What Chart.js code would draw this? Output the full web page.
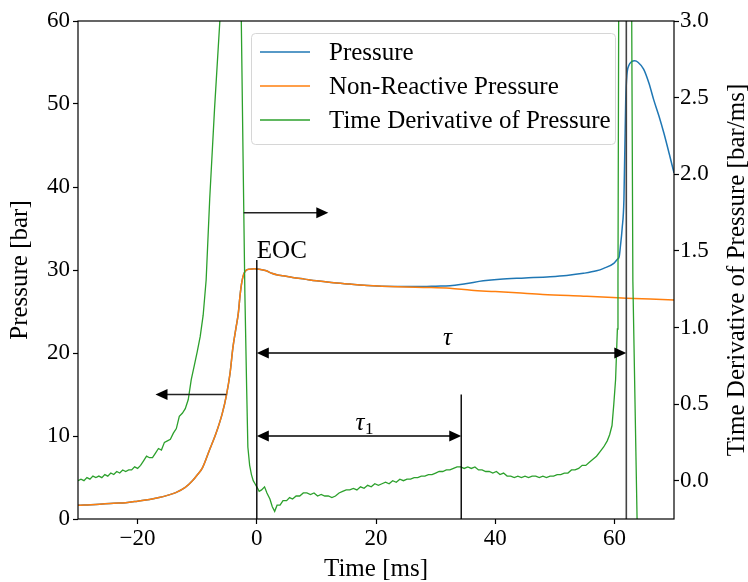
<!DOCTYPE html>
<html>
<head>
<meta charset="utf-8">
<script src="https://cdn.jsdelivr.net/npm/chart.js@4/dist/chart.umd.min.js"></script>
<style>
  body { margin: 0; background: #fff; }
</style>
</head>
<body>
<canvas id="myChart" width="748" height="582"></canvas>
<script>
// pressure (blue) [ms] / [bar]
const timeP = [-30, -27, -24, -22, -20, -18, -16.4, -15, -13.6, -12, -10.8, -10, -9.1, -8, -6.9, -5.8, -5.1, -4.5, -4, -3.5, -3.1, -2.8, -2.5, -2.2, -1.8, -1.2, -0.4, 0.4, 1.6, 2.5, 3.5, 4.4, 6, 8, 10, 12.5, 15.6, 18, 21, 25, 28, 30, 32.4, 35, 38, 40.8, 45, 49.2, 52, 54.8, 57, 58.2, 59.9, 60.5, 60.8, 61, 61.3, 61.6, 61.9, 62.1, 62.4, 62.9, 63.4, 64, 64.9, 65.8, 66.6, 67.5, 68.3, 69.2, 70];
const pressure = [1.65, 1.75, 1.9, 1.97, 2.15, 2.35, 2.58, 2.85, 3.18, 3.8, 4.6, 5.3, 6.2, 8.2, 10.2, 12.7, 14.9, 17.5, 20.7, 23.0, 24.8, 27.0, 28.6, 29.5, 29.95, 30.1, 30.15, 30.1, 29.9, 29.6, 29.4, 29.3, 29.1, 28.9, 28.7, 28.5, 28.3, 28.15, 28.05, 28.0, 28.0, 28.05, 28.1, 28.35, 28.7, 28.9, 29.05, 29.2, 29.35, 29.6, 29.9, 30.2, 30.8, 31.3, 31.6, 32.8, 35.0, 38.5, 50.5, 53.5, 54.6, 55.1, 55.2, 55.0, 54.2, 52.5, 50.5, 48.5, 46.5, 44.0, 41.7];

// non-reactive pressure (orange)
const timeNR = [-30, -27, -24, -22, -20, -18, -16.4, -15, -13.6, -12, -10.8, -10, -9.1, -8, -6.9, -5.8, -5.1, -4.5, -4, -3.5, -3.1, -2.8, -2.5, -2.2, -1.8, -1.2, -0.4, 0.4, 1.6, 2.5, 3.5, 4.4, 6, 8, 10, 12.5, 15.6, 18, 21, 25, 28, 32.4, 36, 40, 43.6, 48, 54.8, 58, 62, 66, 70];
const nonReactive = [1.65, 1.75, 1.9, 1.97, 2.15, 2.35, 2.58, 2.85, 3.18, 3.8, 4.6, 5.3, 6.2, 8.2, 10.2, 12.7, 14.9, 17.5, 20.7, 23.0, 24.8, 27.0, 28.6, 29.5, 29.95, 30.1, 30.15, 30.1, 29.9, 29.6, 29.4, 29.3, 29.1, 28.9, 28.7, 28.5, 28.3, 28.15, 28.05, 27.95, 27.9, 27.8, 27.55, 27.4, 27.25, 27.05, 26.85, 26.75, 26.6, 26.5, 26.4];

// time derivative of pressure (green) [bar/ms]
const timeD = [-30, -29.5, -29, -28.5, -28, -27.5, -27, -26.5, -26, -25.5, -25, -24.5, -24, -23.5, -23, -22.5, -22, -21.5, -21, -20.5, -20, -19.5, -19, -18.5, -18, -17.5, -17, -16.5, -16, -15.5, -15, -14.5, -14, -13.5, -13, -12.5, -12, -11.5, -11, -10.5, -10, -9.5, -9, -8.5, -7.9, -7.1, -6.2, -5.2, -4.3, -3.4, -2.6, -2.3, -2, -1.7, -1.5, -1.2, -0.9, -0.6, -0.3,
  0, 0.4, 0.8, 1.3, 1.7, 2.2, 2.6, 3, 3.4, 3.9, 4.4, 5, 5.5, 6, 6.6, 7.2, 7.8, 8.4, 9, 9.6, 10.2, 10.8, 11.4, 12, 12.6, 13.2, 13.8, 14.4, 15, 15.6, 16.2, 16.8, 17.4, 18, 18.6, 19.2, 19.8, 20.4, 21, 21.6, 22.2, 22.8, 23.4, 24, 24.6, 25.2, 25.8, 26.4, 27, 27.6, 28.2, 28.8, 29.4, 30, 30.6, 31.2, 31.8, 32.4, 33, 33.6, 34.2, 34.8, 35.4, 36, 36.6, 37.2, 37.8, 38.4, 39, 39.6, 40.2, 40.8, 41.4, 42, 42.6, 43.2, 43.8, 44.4, 45, 45.6, 46.2, 46.8, 47.4, 48, 48.6, 49.2, 49.8, 50.4, 51, 51.6, 52.2, 52.8, 53.4, 54, 54.6, 55.2, 55.8, 56.4, 57, 57.6, 58.2, 58.8, 59.2, 59.6, 59.9, 60.2, 60.5, 60.6, 60.75, 61.2, 62, 62.6, 62.85, 63.1, 63.8, 64.5, 66, 70];
const dPdt = [0.00, 0.01, 0.00, 0.02, 0.01, 0.03, 0.02, 0.03, 0.02, 0.04, 0.03, 0.05, 0.04, 0.06, 0.05, 0.07, 0.06, 0.07, 0.07, 0.09, 0.08, 0.10, 0.13, 0.16, 0.15, 0.15, 0.18, 0.21, 0.20, 0.25, 0.26, 0.27, 0.31, 0.34, 0.42, 0.44, 0.47, 0.53, 0.66, 0.75, 0.84, 0.94, 1.08, 1.31, 1.84, 2.42, 3.0, 3.9, 4.3, 4.0, 3.0, 2.1, 1.22, 0.6, 0.22, 0.10, 0.04, 0.00, -0.02,
  -0.04, -0.07, -0.06, -0.04, -0.08, -0.12, -0.17, -0.20, -0.16, -0.16, -0.13, -0.13, -0.11, -0.12, -0.10, -0.10, -0.08, -0.08, -0.09, -0.08, -0.10, -0.09, -0.10, -0.10, -0.11, -0.10, -0.08, -0.07, -0.06, -0.06, -0.05, -0.06, -0.04, -0.05, -0.03, -0.04, -0.02, -0.03, -0.02, -0.01, -0.02, 0.00, -0.01, 0.01, 0.00, 0.01, 0.01, 0.02, 0.02, 0.03, 0.03, 0.04, 0.04, 0.05, 0.06, 0.06, 0.07, 0.07, 0.08, 0.09, 0.09, 0.08, 0.09, 0.08, 0.09, 0.07, 0.07, 0.06, 0.06, 0.05, 0.06, 0.04, 0.05, 0.03, 0.03, 0.02, 0.03, 0.02, 0.03, 0.02, 0.03, 0.03, 0.02, 0.03, 0.02, 0.03, 0.03, 0.04, 0.04, 0.05, 0.05, 0.07, 0.07, 0.08, 0.10, 0.10, 0.12, 0.14, 0.16, 0.19, 0.22, 0.26, 0.30, 0.36, 0.50, 0.66, 0.99, 1.3, 3.5, 5.0, 8.0, 5.0, 3.5, 1.3, -0.24, -1.0, -2.0, -1.5];

// tick labels
const timeTicks = [-20, 0, 20, 40, 60];
const pressureTicks = [0, 10, 20, 30, 40, 50, 60];
const derivTicks = [0, 0.5, 1.0, 1.5, 2.0, 2.5, 3.0];

// annotations (data units)
const eocTime = 0, eocTop = 31.2;
const ignitionTime = 62;
const tau1Time = 34.3, tau1Top = 15;
const tauLevel = 20, tau1Level = 10;
const toLeftArrow = { from: -5.1, to: -17, level: 15 };
const toRightArrow = { from: -2.2, to: 12, level: 36.9 };

const FONT = '"Liberation Serif", "Times New Roman", serif';
const TEXT_SIZE = 25;
Chart.defaults.font.family = FONT;
Chart.defaults.font.size = 23;
Chart.defaults.color = '#000';

function pts(xs, ys) {
  return xs.map((t, i) => ({ x: t, y: ys[i] }));
}

function minusLabel(v) {
  return v < 0 ? '\u2212' + Math.abs(v) : String(v);
}

function arrowHead(ctx, x, y, dir) {
  ctx.beginPath();
  ctx.moveTo(x, y);
  ctx.lineTo(x - dir * 12, y - 5.5);
  ctx.lineTo(x - dir * 12, y + 5.5);
  ctx.closePath();
  ctx.fill();
}

const extras = {
  id: 'extras',
  afterDatasetsDraw(chart) {
    const { ctx, chartArea: a, scales: { x, y } } = chart;
    ctx.save();
    ctx.strokeStyle = '#000';
    ctx.fillStyle = '#000';
    ctx.lineWidth = 1.4;

    // EOC line
    ctx.beginPath();
    ctx.moveTo(x.getPixelForValue(eocTime), y.getPixelForValue(0));
    ctx.lineTo(x.getPixelForValue(eocTime), y.getPixelForValue(eocTop));
    ctx.stroke();
    // tau1 end line
    ctx.beginPath();
    ctx.moveTo(x.getPixelForValue(tau1Time), y.getPixelForValue(0));
    ctx.lineTo(x.getPixelForValue(tau1Time), y.getPixelForValue(tau1Top));
    ctx.stroke();
    // ignition line
    ctx.strokeStyle = '#444';
    ctx.lineWidth = 1.6;
    ctx.beginPath();
    ctx.moveTo(x.getPixelForValue(ignitionTime), a.bottom);
    ctx.lineTo(x.getPixelForValue(ignitionTime), a.top);
    ctx.stroke();

    // double arrows
    ctx.strokeStyle = '#000';
    ctx.lineWidth = 1.4;
    [[tau1Time, tau1Level], [ignitionTime, tauLevel]].forEach(([end, lvl]) => {
      const x0 = x.getPixelForValue(eocTime), x1 = x.getPixelForValue(end);
      const yy = y.getPixelForValue(lvl);
      ctx.beginPath();
      ctx.moveTo(x0 + 10, yy);
      ctx.lineTo(x1 - 10, yy);
      ctx.stroke();
      arrowHead(ctx, x0, yy, -1);
      arrowHead(ctx, x1, yy, 1);
    });

    // axis pointer arrows
    [toLeftArrow, toRightArrow].forEach(ar => {
      const x0 = x.getPixelForValue(ar.from), x1 = x.getPixelForValue(ar.to);
      const yy = y.getPixelForValue(ar.level);
      const dir = x1 > x0 ? 1 : -1;
      ctx.strokeStyle = '#222';
      ctx.beginPath();
      ctx.moveTo(x0, yy);
      ctx.lineTo(x1 - dir * 10, yy);
      ctx.stroke();
      arrowHead(ctx, x1, yy, dir);
    });

    // text labels
    ctx.font = TEXT_SIZE + 'px ' + FONT;
    ctx.textBaseline = 'alphabetic';
    ctx.textAlign = 'left';
    ctx.fillText('EOC', x.getPixelForValue(eocTime), y.getPixelForValue(31.4));

    ctx.font = 'italic ' + TEXT_SIZE + 'px ' + FONT;
    ctx.textAlign = 'center';
    ctx.fillText('τ', x.getPixelForValue(32), y.getPixelForValue(21));
    const t1x = x.getPixelForValue(17.3), t1y = y.getPixelForValue(10.7);
    ctx.fillText('τ', t1x, t1y);
    ctx.font = '17px ' + FONT;
    ctx.textAlign = 'left';
    ctx.fillText('1', t1x + 5, t1y + 4);

    // frame
    ctx.strokeStyle = '#000';
    ctx.lineWidth = 1.2;
    ctx.strokeRect(a.left, a.top, a.right - a.left, a.bottom - a.top);

    // legend
    const lx = a.left + 173, ly = a.top + 12, lw = 364, lh = 111;
    ctx.fillStyle = 'rgba(255,255,255,0.8)';
    ctx.strokeStyle = '#d6d6d6';
    ctx.lineWidth = 1;
    ctx.beginPath();
    ctx.roundRect(lx + 0.5, ly + 0.5, lw, lh, 4);
    ctx.fill();
    ctx.stroke();
    const items = [chart.data.datasets[2], chart.data.datasets[1], chart.data.datasets[0]];
    ctx.font = TEXT_SIZE + 'px ' + FONT;
    ctx.textBaseline = 'middle';
    items.forEach((ds, i) => {
      const yy = ly + 19 + i * 34;
      ctx.strokeStyle = ds.borderColor;
      ctx.lineWidth = 1.5;
      ctx.beginPath();
      ctx.moveTo(lx + 9, yy);
      ctx.lineTo(lx + 59, yy);
      ctx.stroke();
      ctx.fillStyle = '#000';
      ctx.fillText(ds.label, lx + 78, yy + 1);
    });

    // right axis title
    ctx.save();
    ctx.translate(737, (a.top + a.bottom) / 2);
    ctx.rotate(-Math.PI / 2);
    ctx.textAlign = 'center';
    ctx.textBaseline = 'middle';
    ctx.fillText('Time Derivative of Pressure [bar/ms]', 0, 0);
    ctx.restore();

    ctx.restore();
  }
};

const tickGrid = { drawOnChartArea: false, drawTicks: true, tickLength: 5, tickColor: '#000', tickWidth: 1.2 };

new Chart(document.getElementById('myChart'), {
  type: 'line',
  data: {
    datasets: [
      { label: 'Time Derivative of Pressure', data: pts(timeD, dPdt), yAxisID: 'y1', borderColor: '#2ca02c', borderWidth: 1.3, pointRadius: 0, tension: 0, order: 0, clip: 0 },
      { label: 'Non-Reactive Pressure', data: pts(timeNR, nonReactive), yAxisID: 'y', borderColor: '#ff7f0e', borderWidth: 1.5, pointRadius: 0, cubicInterpolationMode: 'monotone', order: 1, clip: 0 },
      { label: 'Pressure', data: pts(timeP, pressure), yAxisID: 'y', borderColor: '#1f77b4', borderWidth: 1.5, pointRadius: 0, cubicInterpolationMode: 'monotone', order: 2, clip: 0 }
    ]
  },
  options: {
    responsive: false,
    animation: false,
    devicePixelRatio: 1,
    layout: { padding: { top: 21, left: 0, right: 0, bottom: 0 } },
    plugins: { legend: { display: false }, tooltip: { enabled: false } },
    scales: {
      x: {
        type: 'linear', min: -30, max: 70,
        grid: tickGrid, border: { display: false },
        ticks: { padding: 1, maxRotation: 0, callback: v => minusLabel(v) },
        afterBuildTicks: s => { s.ticks = timeTicks.map(v => ({ value: v })); },
        afterFit: s => { s.height = 63; },
        title: { display: true, text: 'Time [ms]', font: { size: TEXT_SIZE, lineHeight: 1 }, padding: 0 }
      },
      y: {
        position: 'left', min: 0, max: 60,
        grid: tickGrid, border: { display: false },
        ticks: { padding: 3 },
        afterBuildTicks: s => { s.ticks = pressureTicks.map(v => ({ value: v })); },
        afterFit: s => { s.width = 78; },
        title: { display: true, text: 'Pressure [bar]', font: { size: TEXT_SIZE, lineHeight: 1 }, padding: { top: 8, bottom: 0 } }
      },
      y1: {
        position: 'right', min: -0.25, max: 3.0,
        grid: tickGrid, border: { display: false },
        ticks: { padding: 1, callback: v => v.toFixed(1) },
        afterBuildTicks: s => { s.ticks = derivTicks.map(v => ({ value: v })); },
        afterFit: s => { s.width = 74; }
      }
    }
  },
  plugins: [extras]
});
</script>
</body>
</html>
